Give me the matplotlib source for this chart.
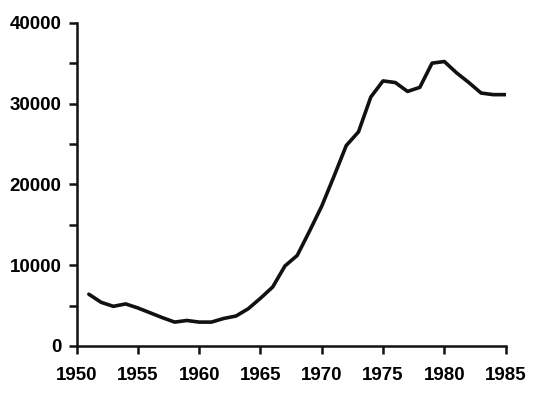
import matplotlib
matplotlib.use("Agg")
import matplotlib.pyplot as plt
from matplotlib.ticker import MultipleLocator

years = list(range(1951, 1986))
values = [6400, 5400, 4900, 5200, 4700, 4100, 3500, 2950, 3150, 2950,
          2950, 3400, 3700, 4600, 5900, 7300, 9900, 11200, 14200, 17300,
          21000, 24800, 26500, 30800, 32800, 32600, 31500, 32000, 35000, 35200,
          33800, 32600, 31300, 31100, 31100]
xticks = [1950, 1955, 1960, 1965, 1970, 1975, 1980, 1985]
yticks = [0, 10000, 20000, 30000, 40000]

plt.rcParams['font.family'] = ['Liberation Sans', 'DejaVu Sans']

fig = plt.figure(figsize=(5.55, 3.99), dpi=100)
ax = fig.add_axes([0.138, 0.133, 0.773, 0.810])
ax.plot(years, values, color='#111111', lw=2.6, solid_joinstyle='round', solid_capstyle='round')

ax.set_xlim(1950, 1985)
ax.set_ylim(0, 40000)
ax.set_xticks(xticks)
ax.set_yticks(yticks)
ax.set_xticklabels([str(t) for t in xticks])
ax.set_yticklabels([str(t) for t in yticks])
ax.yaxis.set_minor_locator(MultipleLocator(5000))

for s in ['top', 'right']:
    ax.spines[s].set_visible(False)
for s in ['left', 'bottom']:
    ax.spines[s].set_linewidth(1.8)
    ax.spines[s].set_color('#111111')

ax.tick_params(axis='both', which='both', direction='out', length=6, width=1.8,
               color='#111111', labelsize=13.5, pad=5)
ax.tick_params(axis='y', which='minor', length=6)
ax.tick_params(axis='x', pad=9)
for lbl in ax.get_xticklabels() + ax.get_yticklabels():
    lbl.set_fontweight('bold')

fig.savefig('out.png', dpi=100, facecolor='white')
